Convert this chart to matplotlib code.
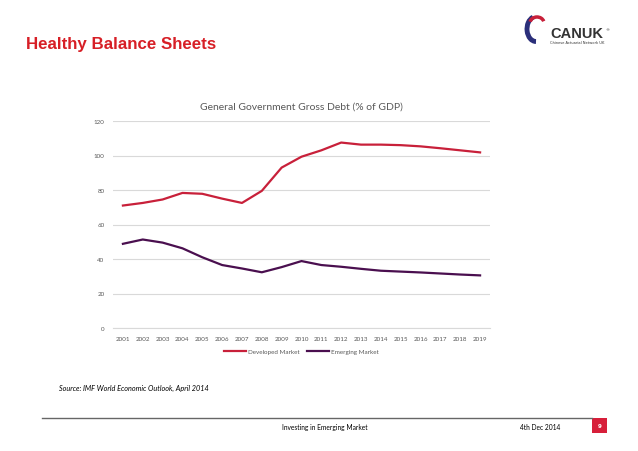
import numpy as np
import matplotlib.pyplot as plt
from matplotlib.patches import Rectangle, Arc
from matplotlib.lines import Line2D

# data
years = [str(y) for y in range(2001, 2020)]
developed = [71.0, 72.5, 74.5, 78.3, 77.8, 75.0, 72.5, 79.5, 93.0, 99.3,
             103.0, 107.5, 106.3, 106.3, 106.0, 105.3, 104.2, 103.0, 101.8]
emerging = [48.8, 51.3, 49.5, 46.2, 41.0, 36.5, 34.5, 32.3, 35.3, 38.8,
            36.5, 35.5, 34.3, 33.2, 32.7, 32.2, 31.6, 31.0, 30.5]
y_ticks = [0, 20, 40, 60, 80, 100, 120]

W, H = 638, 452
fig = plt.figure(figsize=(W / 100, H / 100), dpi=100)
fig.patch.set_facecolor("white")

# main chart axes (pixel box: x 113-490, y 122-329)
ax = fig.add_axes([113 / W, 1 - 329 / H, (490 - 113) / W, (329 - 122) / H])
x = np.arange(len(years))
ax.plot(x, developed, color="#c8203a", lw=1.6, label="Developed Market")
ax.plot(x, emerging, color="#4a0f4f", lw=1.6, label="Emerging Market")
ax.set_xlim(-0.5, len(years) - 0.5)
ax.set_ylim(0, 120)
ax.set_yticks(y_ticks)
ax.set_xticks(x)
ax.set_xticklabels(years)
ax.tick_params(length=0, labelsize=4.5, colors="#595959", pad=6)
for lab in ax.get_xticklabels() + ax.get_yticklabels():
    lab.set_family("Lato")
ax.grid(axis="y", color="#d9d9d9", lw=0.8)
ax.set_axisbelow(True)
for s in ["top", "right", "left"]:
    ax.spines[s].set_visible(False)
ax.spines["bottom"].set_color("#d9d9d9")
ax.spines["bottom"].set_linewidth(0.8)

fig.text(301 / W, 1 - 107 / H, "General Government Gross Debt (% of GDP)",
         ha="center", va="center", fontsize=7.5, color="#595959", family="Lato")

leg = ax.legend(loc="center", bbox_to_anchor=(0.5, -0.115), ncol=2, frameon=False,
                handlelength=3.5, columnspacing=1.2, handletextpad=0.3,
                prop={"family": "Lato", "size": 4.5})
for t in leg.get_texts():
    t.set_color("#595959")

# slide decorations
fig.text(26 / W, 1 - 44 / H, "Healthy Balance Sheets", ha="left", va="center",
         fontsize=12.2, fontweight="bold", color="#d71f26",
         family="Liberation Sans")

fig.text(59 / W, 1 - 388 / H, "Source: IMF World Economic Outlook, April 2014",
         ha="left", va="center", fontsize=5.2, style="italic", color="black",
         family="Lato")

fig.add_artist(Line2D([42 / W, 592 / W], [1 - 419 / H, 1 - 419 / H],
                      color="#666666", lw=1.0))
fig.text(325 / W, 1 - 428 / H, "Investing in Emerging Market", ha="center",
         va="center", fontsize=4.8, color="black", family="Lato")
fig.text(540 / W, 1 - 428 / H, "4th Dec 2014", ha="center", va="center",
         fontsize=4.8, color="black", family="Lato")
fig.add_artist(Rectangle((592 / W, 1 - 434 / H), 15 / W, 15 / H,
                         facecolor="#d71f3a", edgecolor="none"))
fig.text(599.5 / W, 1 - 426.5 / H, "9", ha="center", va="center", fontsize=4,
         color="white", fontweight="bold")

# logo
fig.add_artist(Arc((536 / W, 1 - 30 / H), 18 / W, 25 / H, theta1=100, theta2=270,
                   color="#2b2f7a", lw=3.5))
fig.add_artist(Arc((537 / W, 1 - 24 / H), 14 / W, 12 / H, theta1=20, theta2=165,
                   color="#c8203a", lw=2.5))
fig.text(550 / W, 1 - 34 / H, "CANUK", ha="left", va="center", fontsize=10.5,
         fontweight="bold", color="#333333", family="Liberation Sans")
fig.text(605 / W, 1 - 30 / H, "\u00ae", ha="left", va="center", fontsize=3,
         color="#333333")
fig.text(550 / W, 1 - 43 / H, "Chinese Actuarial Network UK", ha="left",
         va="center", fontsize=2.6, color="#333333")

fig.savefig("out.png", dpi=100, facecolor="white")
